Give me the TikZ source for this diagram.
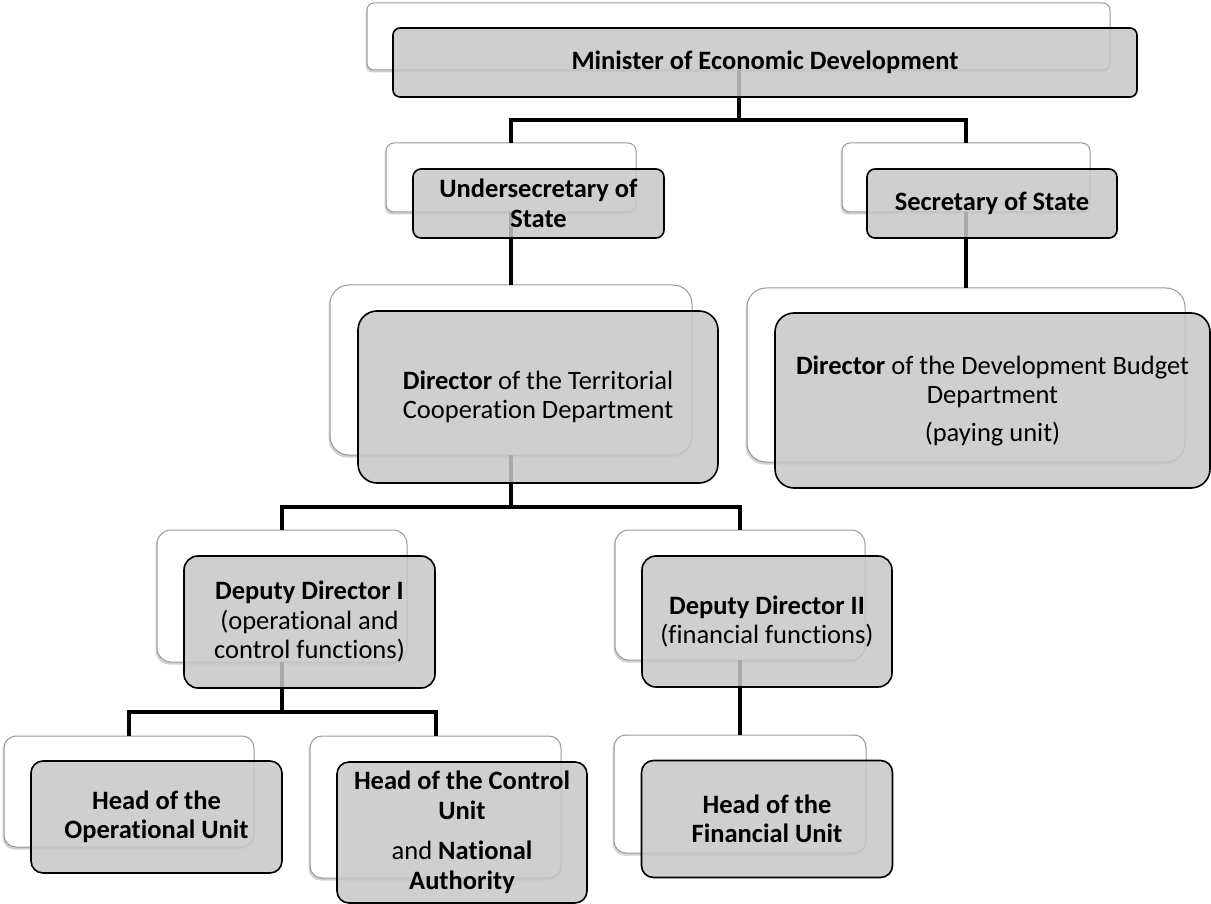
\documentclass[tikz,border=0pt]{standalone}
\usepackage{fontspec}
\setmainfont{Carlito}[Ligatures=NoCommon]
\usetikzlibrary{shadows}
\begin{document}
\begin{tikzpicture}[x=1pt,y=-1pt,
  back/.style={draw=black!40, line width=1pt, fill=white, rounded corners=#1,
    drop shadow={shadow xshift=-1.5pt, shadow yshift=-2.5pt, opacity=.3, fill=black!60},
    inner sep=0pt, outer sep=0pt},
  front/.style={draw=black, line width=1.6pt, fill=black!22, fill opacity=.85, text opacity=1,
    rounded corners=#1, align=center, inner sep=0pt,
    font=\fontsize{26.5}{29.5}\selectfont},
  conn/.style={line width=4pt}
]
\useasboundingbox (0,0) rectangle (1211,904);

% back (white) boxes
\node[back=7pt,  minimum width=743pt, minimum height=67pt]  (wm)  at (738.5,36.5) {};
\node[back=8pt,  minimum width=250pt, minimum height=69pt]  (wu)  at (511,177.5) {};
\node[back=8pt,  minimum width=248pt, minimum height=69pt]  (ws)  at (966,177.5) {};
\node[back=19pt, minimum width=362pt, minimum height=170pt] (wt)  at (511,370) {};
\node[back=19pt, minimum width=438pt, minimum height=174pt] (wb)  at (966,375) {};
\node[back=14pt, minimum width=250pt, minimum height=132pt] (wd1) at (282,596) {};
\node[back=14pt, minimum width=250pt, minimum height=130pt] (wd2) at (740,595) {};
\node[back=12pt, minimum width=250pt, minimum height=111pt] (wo)  at (129,791.5) {};
\node[back=12pt, minimum width=251pt, minimum height=142pt] (wc)  at (435.5,807) {};
\node[back=12pt, minimum width=252pt, minimum height=118pt] (wf)  at (740,794) {};

% connectors
\draw[conn] (wm.south) -- ++(0,50) -| (wu.north);
\draw[conn] (wm.south) -- ++(0,50) -| (ws.north);
\draw[conn] (wu.south) -- (wt.north);
\draw[conn] (ws.south) -- (wb.north);
\draw[conn] (wt.south) -- ++(0,52) -| (wd1.north);
\draw[conn] (wt.south) -- ++(0,52) -| (wd2.north);
\draw[conn] (wd1.south) -- ++(0,50) -| (wo.north);
\draw[conn] (wd1.south) -- ++(0,50) -| (wc.north);
\draw[conn] (wd2.south) -- (wf.north);

% front (grey) boxes
\node[front=7pt,  minimum width=744pt, minimum height=69pt]  (gm)  at (765,62.5)
  {\textbf{Minister of Economic Development}};
\node[front=8pt,  minimum width=251pt, minimum height=69pt]  (gu)  at (538.5,203.5)
  {\textbf{Undersecretary of}\\\textbf{State}};
\node[front=8pt,  minimum width=250pt, minimum height=69pt]  (gs)  at (992,203.5)
  {\textbf{Secretary of State}};
\node[front=19pt, minimum width=360pt, minimum height=172pt] (gt)  at (538,397)
  {\textbf{Director} of the Territorial\\Cooperation Department};
\node[front=19pt, minimum width=435pt, minimum height=175pt] (gb)  at (992.5,400.5)
  {\textbf{Director} of the Development Budget\\Department\\[8pt](paying unit)};
\node[front=14pt, minimum width=251pt, minimum height=132pt] (gd1) at (309.5,622)
  {\textbf{Deputy Director I}\\(operational and\\control functions)};
\node[front=14pt, minimum width=250pt, minimum height=131pt] (gd2) at (767,621.5)
  {\textbf{Deputy Director II}\\(financial functions)};
\node[front=12pt, minimum width=251pt, minimum height=112pt] (go)  at (156.5,817)
  {\textbf{Head of the}\\\textbf{Operational Unit}};
\node[front=12pt, minimum width=250pt, minimum height=141pt] (gc)  at (462,832.5)
  {\textbf{Head of the Control}\\\textbf{Unit}\\[11pt]and \textbf{National}\\\textbf{Authority}};
\node[front=12pt, minimum width=251pt, minimum height=117pt] (gf)  at (767,819)
  {\textbf{Head of the}\\\textbf{Financial Unit}};
\end{tikzpicture}
\end{document}
